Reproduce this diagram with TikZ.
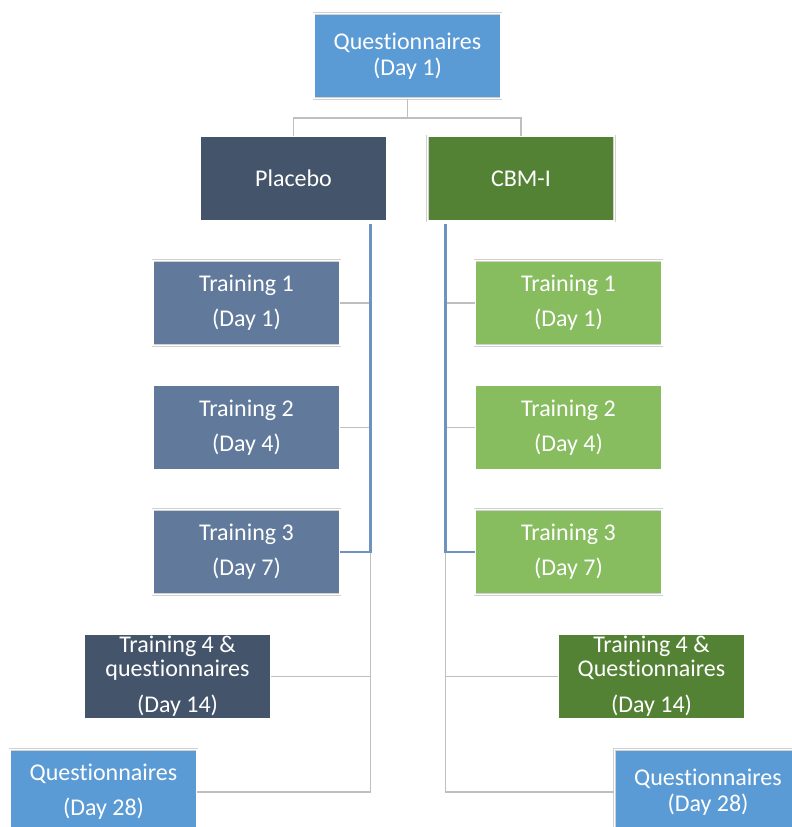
\documentclass[tikz,border=0pt]{standalone}
\usepackage{fontspec}
\setmainfont{Carlito}[Ligatures={NoCommon,NoRare}]
\usepackage{xcolor}
\usepackage{tikz}
\usetikzlibrary{positioning,calc}
\definecolor{qblue}{HTML}{5B9BD5}
\definecolor{pslate}{HTML}{44546A}
\definecolor{pmid}{HTML}{617A9B}
\definecolor{cdark}{HTML}{548235}
\definecolor{clight}{HTML}{87BC5F}
\definecolor{trunk}{HTML}{6F93BF}
\definecolor{lgrey}{HTML}{BFBFBF}

\begin{document}
\begin{tikzpicture}[x=1pt, y=1pt, node distance=39pt,
    box/.style={rectangle, minimum width=187pt, minimum height=85pt, inner sep=0pt,
      align=center, text=white, font=\fontsize{24}{26}\selectfont,
      draw=black!18, double=white, double distance=1.6pt, line width=0.5pt},
    conn/.style={draw=lgrey, line width=1.5pt},
    tconn/.style={draw=trunk, line width=2.5pt}]
    \useasboundingbox (0,0) rectangle (792,-827);

    \node [box, fill=qblue] (Q) at (407.5,-56) {Questionnaires\\(Day 1)};
    \node [box, fill=pslate] (P) at (293.5,-178.5) {Placebo};
    \node [box, fill=cdark] (C) at (521,-178.5) {CBM-I};

    \node [box, fill=pmid, below=39pt of P, xshift=-47pt] (P1) {Training 1\\[9pt](Day 1)};
    \node [box, fill=pmid, below=of P1] (P2) {Training 2\\[9pt](Day 4)};
    \node [box, fill=pmid, below=of P2] (P3) {Training 3\\[9pt](Day 7)};
    \node [box, fill=pslate, below=of P3, xshift=-69pt] (P4) {Training 4 \&\\[-2pt]questionnaires\\[10pt](Day 14)};
    \node [box, fill=qblue, below=30pt of P4, xshift=-74pt] (P5) {Questionnaires\\[9pt](Day 28)};

    \node [box, fill=clight, below=39pt of C, xshift=47.5pt] (C1) {Training 1\\[9pt](Day 1)};
    \node [box, fill=clight, below=of C1] (C2) {Training 2\\[9pt](Day 4)};
    \node [box, fill=clight, below=of C2] (C3) {Training 3\\[9pt](Day 7)};
    \node [box, fill=cdark, below=of C3, xshift=83pt] (C4) {Training 4 \&\\[-2pt]Questionnaires\\[10pt](Day 14)};
    \node [box, fill=qblue, below=30pt of C4, xshift=56.5pt] (C5) {Questionnaires\\(Day 28)};

    \coordinate (PT) at ($(P.south east)+(-17,-3)$);
    \coordinate (CT) at ($(C.south west)+(18,-3)$);

    \draw [conn] (Q.south) -- ++(0,-19) -| (P.north);
    \draw [conn] (Q.south) -- ++(0,-19) -| (C.north);

    \draw [conn] (P1.east) -- (P1.east -| PT);
    \draw [conn] (P2.east) -- (P2.east -| PT);
    \draw [conn] (P4.east) -- (P4.east -| PT);
    \draw [conn] (P3.east -| PT) -- (P5.east -| PT) -- (P5.east);
    \draw [tconn] (PT) |- (P3.east);

    \draw [conn] (C1.west) -- (C1.west -| CT);
    \draw [conn] (C2.west) -- (C2.west -| CT);
    \draw [conn] (C4.west) -- (C4.west -| CT);
    \draw [conn] (C3.west -| CT) -- (C5.west -| CT) -- (C5.west);
    \draw [tconn] (CT) |- (C3.west);
\end{tikzpicture}
\end{document}
